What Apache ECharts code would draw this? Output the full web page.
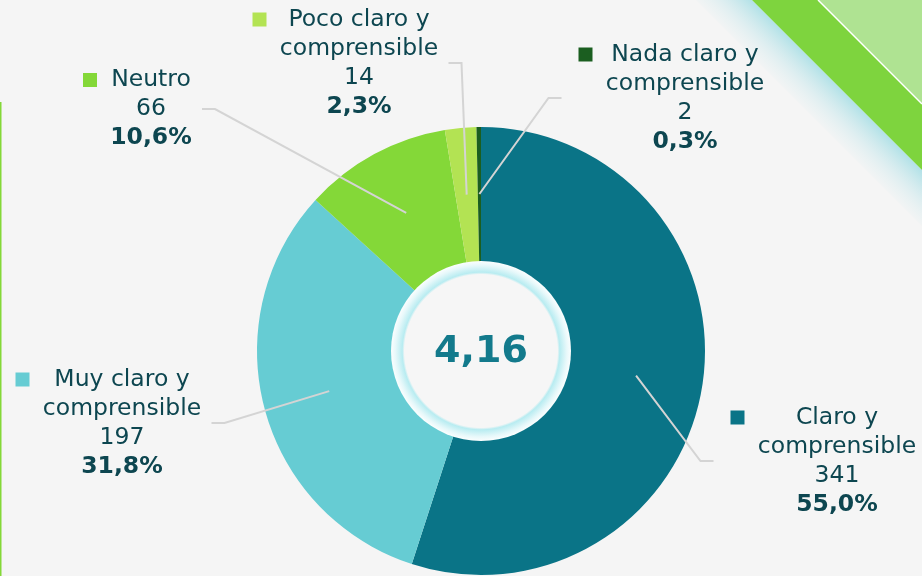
<!DOCTYPE html>
<html lang="es">
   <head>
      <meta charset="utf-8">
      <title>Claridad y comprensión</title>
      <script type="text/javascript" src="https://cdn.jsdelivr.net/npm/echarts@6/dist/echarts.min.js"></script>
      <style>
         html, body { margin: 0; padding: 0; background: #f5f5f5; }
         #main { width: 922px; height: 576px; }
      </style>
   </head>
   <body>
      <div id="main"></div>
      <script>
        // datos
        var names = ['Claro y\ncomprensible', 'Muy claro y\ncomprensible', 'Neutro', 'Poco claro y\ncomprensible', 'Nada claro y\ncomprensible'];
        var values = [341, 197, 66, 14, 2];
        var percents = ['55,0%', '31,8%', '10,6%', '2,3%', '0,3%'];
        var average = '4,16';

        var colors = ['#0a7487', '#66ccd3', '#84d838', '#b3e353', '#1b5e20'];
        // centro de cada bloque de texto, y lado de la etiqueta (1 = derecha del pastel)
        var labelAnchor = [[837, 461], [122, 423], [151, 109], [359, 63], [685, 98]];
        var labelSide = [1, -1, -1, -1, 1];

        var cx = 481, cy = 351;
        var textColor = '#0d4650';
        var font = 'DejaVu Sans';
        var fs = 23.5;

        var ctx = document.createElement('canvas').getContext('2d');
        function textWidth(str, weight) {
            ctx.font = (weight || 'normal') + ' ' + fs + 'px "' + font + '"';
            return ctx.measureText(str).width;
        }

        var blockW = [];
        var labelData = names.map(function (n, i) {
            var lines = n.split('\n');
            var w = Math.max(textWidth(String(values[i])), textWidth(percents[i], 'bold'));
            lines.forEach(function (l) { w = Math.max(w, textWidth(l)); });
            w = Math.ceil(w) + 2;
            blockW.push(w);
            var txt = lines.map(function (l, k) {
                return (k === 0 ? '{m|}{g|}' : '{s|}') + '{n|' + l + '}{s|}';
            }).join('\n');
            txt += '\n{s|}{n|' + values[i] + '}{s|}\n{s|}{b|' + percents[i] + '}{s|}';
            return {
                value: values[i],
                name: n,
                label: {
                    formatter: txt,
                    rich: {
                        m: { width: 14, height: 14, backgroundColor: colors[i] },
                        g: { width: 12 },
                        s: { width: 26 },
                        n: { width: w, align: 'center', fontSize: fs, lineHeight: 29, color: textColor, fontFamily: font },
                        b: { width: w, align: 'center', fontSize: fs, lineHeight: 29, color: textColor, fontFamily: font, fontWeight: 'bold' }
                    }
                }
            };
        });

        var chart = echarts.init(document.getElementById('main'), null, {renderer: 'canvas'});

        chart.setOption({
            backgroundColor: '#f5f5f5',
            animation: false,
            graphic: [
                // franja verde y sombra arriba a la derecha
                {
                    type: 'polygon', z: 0,
                    shape: { points: [[696, 0], [752, 0], [922, 170], [922, 226]] },
                    style: {
                        fill: new echarts.graphic.LinearGradient(837, 85, 800, 122, [
                            { offset: 0, color: 'rgba(160,220,228,0.8)' },
                            { offset: 1, color: 'rgba(245,245,245,0)' }
                        ], true)
                    }
                },
                { type: 'polygon', z: 1, shape: { points: [[752, 0], [818, 0], [922, 104], [922, 170]] }, style: { fill: '#7ed43e' } },
                { type: 'polygon', z: 1, shape: { points: [[818, 0], [922, 0], [922, 104]] }, style: { fill: '#afe392' } },
                { type: 'line', z: 2, shape: { x1: 818, y1: 0, x2: 922, y2: 104 }, style: { stroke: '#ffffff', lineWidth: 1.5 } },
                // línea verde a la izquierda
                { type: 'rect', z: 1, shape: { x: 0, y: 102, width: 1.5, height: 474 }, style: { fill: '#84d838' } },
                // círculo central
                {
                    type: 'circle', z: 10,
                    shape: { cx: cx, cy: cy, r: 90 },
                    style: {
                        fill: new echarts.graphic.RadialGradient(0.5, 0.5, 0.5, [
                            { offset: 0, color: '#f6f6f6' },
                            { offset: 0.85, color: '#f6f6f6' },
                            { offset: 0.875, color: '#b8ecf1' },
                            { offset: 0.95, color: '#e6f8fa' },
                            { offset: 1, color: '#fbfefe' }
                        ])
                    }
                },
                {
                    type: 'text', z: 11,
                    x: cx, y: cy + 1,
                    style: {
                        text: average, fill: '#137a8c', font: 'bold 38px "' + font + '"',
                        align: 'center', verticalAlign: 'middle'
                    }
                }
            ],
            series: [
                {
                    type: 'pie',
                    center: [cx, cy],
                    radius: [86, 224],
                    startAngle: 90,
                    clockwise: true,
                    silent: true,
                    label: { show: false },
                    labelLine: { show: false },
                    itemStyle: {
                        color: function (p) { return colors[p.dataIndex]; }
                    },
                    data: values.map(function (v, i) { return { value: v, name: names[i] }; })
                },
                {
                    // serie transparente para las etiquetas (las líneas salen del interior)
                    type: 'pie',
                    center: [cx, cy],
                    radius: [0, 157],
                    startAngle: 90,
                    clockwise: true,
                    silent: true,
                    z: 3,
                    itemStyle: { color: 'rgba(0,0,0,0)' },
                    label: { show: true, position: 'outside' },
                    labelLine: { show: true, lineStyle: { color: '#d4d4d4', width: 2 } },
                    labelLayout: function (params) {
                        var i = params.dataIndex;
                        var a = labelAnchor[i];
                        var w = blockW[i];
                        var start = params.labelLinePoints[0];
                        var endX = labelSide[i] > 0 ? a[0] - w / 2 - 43 : a[0] + w / 2 + 9;
                        var elbowX = endX - labelSide[i] * 13;
                        return {
                            x: a[0], y: a[1],
                            align: 'center', verticalAlign: 'middle',
                            labelLinePoints: [start, [elbowX, a[1]], [endX, a[1]]]
                        };
                    },
                    data: labelData
                }
            ]
        });
      </script>
   </body>
</html>
